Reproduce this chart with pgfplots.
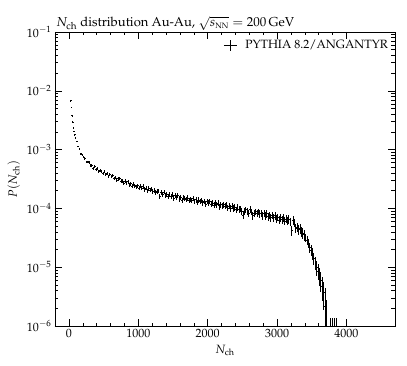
\documentclass[border=0pt]{standalone}
\usepackage[T1]{fontenc}
\usepackage{mathpazo}
\usepackage{pgfplots}
\pgfplotsset{compat=1.18}
\usepackage{pgfplotstable}

% P(Nch): bin centre, value, stat. error
\pgfplotstableread{
x     y        e
25    6.8e-3   1.04e-4
35    5.3e-3   9.2e-5
45    3.8e-3   7.7e-5
55    2.95e-3  6.8e-5
65    2.35e-3  6.1e-5
75    2.05e-3  5.8e-5
85    1.8e-3   5.4e-5
95    1.58e-3  5.0e-5
110   1.38e-3  4.7e-5
130   1.13e-3  4.3e-5
150   1.03e-3  4.0e-5
170   8.5e-4   3.6e-5
190   8.2e-4   3.6e-5
210   7.4e-4   3.4e-5
230   7.05e-4  3.3e-5
250   6.2e-4   3.15e-5
270   6.2e-4   3.15e-5
290   6.0e-4   3.1e-5
310   5.35e-4  2.9e-5
330   5.3e-4   2.9e-5
350   4.85e-4  2.8e-5
370   5.15e-4  2.9e-5
390   4.6e-4   2.7e-5
410   4.7e-4   2.7e-5
430   4.2e-4   2.6e-5
450   4.5e-4   2.7e-5
470   4.25e-4  2.6e-5
490   3.98e-4  2.5e-5
510   4.2e-4   2.6e-5
530   3.8e-4   2.4e-5
550   3.9e-4   2.5e-5
570   3.5e-4   2.35e-5
590   3.75e-4  2.4e-5
610   3.48e-4  2.35e-5
630   3.6e-4   2.35e-5
650   3.22e-4  2.25e-5
670   3.37e-4  2.35e-5
690   3.03e-4  2.15e-5
710   3.2e-4   2.25e-5
730   3.26e-4  2.25e-5
750   2.9e-4   2.15e-5
770   2.93e-4  2.15e-5
790   2.7e-4   2.05e-5
810   2.9e-4   2.15e-5
830   2.68e-4  2.05e-5
850   2.84e-4  2.15e-5
870   2.52e-4  2.0e-5
890   2.64e-4  2.05e-5
910   2.4e-4   2.0e-5
930   2.63e-4  2.05e-5
950   2.45e-4  2.0e-5
970   2.34e-4  1.9e-5
990   2.45e-4  2.0e-5
1010  2.21e-4  1.9e-5
1030  2.37e-4  1.9e-5
1050  2.21e-4  1.9e-5
1070  2.36e-4  1.9e-5
1090  2.11e-4  1.8e-5
1110  2.21e-4  1.9e-5
1130  1.99e-4  1.78e-5
1150  2.19e-4  1.9e-5
1170  2.06e-4  1.8e-5
1190  2.15e-4  1.8e-5
1210  1.96e-4  1.76e-5
1230  2.04e-4  1.8e-5
1250  1.85e-4  1.71e-5
1270  1.96e-4  1.76e-5
1290  1.99e-4  1.78e-5
1310  1.63e-4  1.6e-5
1330  1.88e-4  1.73e-5
1350  1.76e-4  1.67e-5
1370  1.91e-4  1.75e-5
1390  1.68e-4  1.64e-5
1410  1.74e-4  1.66e-5
1430  1.62e-4  1.6e-5
1450  1.75e-4  1.67e-5
1470  1.63e-4  1.6e-5
1490  1.71e-4  1.66e-5
1510  1.51e-4  1.55e-5
1530  1.64e-4  1.62e-5
1550  1.55e-4  1.57e-5
1570  1.64e-4  1.62e-5
1590  1.46e-4  1.53e-5
1610  1.53e-4  1.57e-5
1630  1.36e-4  1.48e-5
1650  1.54e-4  1.57e-5
1670  1.47e-4  1.53e-5
1690  1.41e-4  1.49e-5
1710  1.51e-4  1.55e-5
1730  1.36e-4  1.48e-5
1750  1.44e-4  1.51e-5
1770  1.37e-4  1.48e-5
1790  1.47e-4  1.53e-5
1810  1.32e-4  1.44e-5
1830  1.4e-4   1.49e-5
1850  1.27e-4  1.42e-5
1870  1.39e-4  1.49e-5
1890  1.31e-4  1.44e-5
1910  1.38e-4  1.48e-5
1930  1.26e-4  1.42e-5
1950  1.32e-4  1.44e-5
1970  1.19e-4  1.37e-5
1990  1.32e-4  1.44e-5
2010  1.23e-4  1.4e-5
2030  1.31e-4  1.44e-5
2050  1.18e-4  1.37e-5
2070  1.23e-4  1.4e-5
2090  1.14e-4  1.35e-5
2110  1.23e-4  1.4e-5
2130  1.16e-4  1.35e-5
2150  1.23e-4  1.4e-5
2170  1.07e-4  1.3e-5
2190  1.17e-4  1.37e-5
2210  1.11e-4  1.33e-5
2230  1.17e-4  1.37e-5
2250  1.10e-4  1.31e-5
2270  1.16e-4  1.35e-5
2290  1.02e-4  1.28e-5
2310  1.09e-4  1.31e-5
2330  1.01e-4  1.26e-5
2350  1.09e-4  1.31e-5
2370  1.01e-4  1.26e-5
2390  1.05e-4  1.3e-5
2410  9.5e-5   1.22e-5
2430  1.04e-4  1.28e-5
2450  9.75e-5  1.24e-5
2470  9.9e-5   1.26e-5
2490  8.9e-5   1.19e-5
2510  7.75e-5  1.12e-5
2530  9.07e-5  1.21e-5
2550  9.5e-5   1.22e-5
2570  8.8e-5   1.19e-5
2590  8.2e-5   1.13e-5
2610  9.6e-5   1.24e-5
2630  8.77e-5  1.19e-5
2650  7.5e-5   1.1e-5
2670  8.27e-5  1.15e-5
2690  8.77e-5  1.19e-5
2710  8.2e-5   1.13e-5
2730  8.77e-5  1.19e-5
2750  8.1e-5   1.13e-5
2770  8.35e-5  1.15e-5
2790  7.47e-5  1.1e-5
2810  8.16e-5  1.13e-5
2830  7.52e-5  1.1e-5
2850  8.1e-5   1.13e-5
2870  7.25e-5  1.08e-5
2890  7.6e-5   1.1e-5
2910  6.98e-5  1.04e-5
2930  7.6e-5   1.1e-5
2950  7.0e-5   1.06e-5
2970  7.55e-5  1.1e-5
2990  6.67e-5  1.03e-5
3010  7.05e-5  1.06e-5
3030  6.35e-5  1.01e-5
3050  6.95e-5  1.04e-5
3070  6.47e-5  1.01e-5
3090  6.91e-5  1.04e-5
3110  6.13e-5  9.9e-6
3130  6.57e-5  1.03e-5
3150  6.11e-5  9.9e-6
3170  6.56e-5  1.03e-5
3190  5.93e-5  9.7e-6
3210  4.2e-5   8.1e-6
3230  6.3e-5   1.01e-5
3250  5.7e-5   9.5e-6
3270  4.6e-5   8.5e-6
3290  4.8e-5   8.6e-6
3310  4.35e-5  8.3e-6
3330  4.5e-5   8.5e-6
3350  4.0e-5   7.9e-6
3370  3.8e-5   7.7e-6
3390  3.55e-5  7.6e-6
3410  3.2e-5   5.2e-6
3430  2.85e-5  4.8e-6
3450  2.6e-5   4.7e-6
3470  2.2e-5   4.3e-6
3490  1.95e-5  4.0e-6
3510  1.7e-5   3.8e-6
3530  1.42e-5  3.4e-6
3550  1.2e-5   3.1e-6
3570  1.0e-5   2.9e-6
3590  8.6e-6   2.6e-6
3610  7.2e-6   2.5e-6
3630  6.0e-6   2.2e-6
3650  4.8e-6   2.1e-6
3670  3.7e-6   1.8e-6
3690  2.2e-6   2.19e-6
3710  1.4e-6   1.39e-6
3770  7e-7     6.9e-7
3790  7e-7     6.9e-7
3830  7e-7     6.9e-7
3850  7e-7     6.9e-7
}\nch

\begin{document}
\begin{tikzpicture}
\useasboundingbox (-55pt,-40pt) rectangle (352pt,326pt);
\begin{axis}[
    at={(0,0)}, anchor=south west,
    scale only axis,
    width=340pt, height=294pt,
    xmin=-200, xmax=4700,
    ymode=log, ymin=1e-6, ymax=1e-1,
    xtick={0,1000,2000,3000,4000},
    minor x tick num=4,
    ytick={1e-6,1e-5,1e-4,1e-3,1e-2,1e-1},
    scaled x ticks=false,
    x tick label style={/pgf/number format/1000 sep={}},
    tick label style={font=\large},
    label style={font=\large},
    tick align=inside,
    major tick length=7pt, minor tick length=3.5pt,
    every tick/.style={black, line width=0.5pt},
    axis line style={line width=0.6pt},
    clip mode=individual,
    xlabel={$N_{\mathrm{ch}}$},
    ylabel={$P(N_{\mathrm{ch}})$},
    legend style={at={(1,1)}, anchor=north east, draw=none, fill=none,
                  font=\large, xshift=-2pt, yshift=-4pt},
    legend cell align=left,
]
\addplot[forget plot, draw=none, mark=none,
    error bars/.cd, y dir=both, y explicit, x dir=both, x fixed=10,
    error mark=none, error bar style={draw=black, line width=0.7pt}]
    table[x=x, y=y, y error=e] {\nch};
\addlegendimage{legend image code/.code={
    \draw[black, line width=0.7pt] (0.07cm,0cm) -- (0.53cm,0cm)
          (0.3cm,-0.19cm) -- (0.3cm,0.19cm);}}
\addlegendentry{\hspace{6pt}PYTHIA 8.2/ANGANTYR}
\node[anchor=south west, inner sep=1pt, font=\fontsize{13}{15}\selectfont]
    at (rel axis cs:0,1)
    {$N_{\mathrm{ch}}$ distribution Au-Au, $\sqrt{s_{\scriptscriptstyle\mathrm{NN}}}=200\,\mathrm{GeV}$};
\end{axis}
\end{tikzpicture}
\end{document}
